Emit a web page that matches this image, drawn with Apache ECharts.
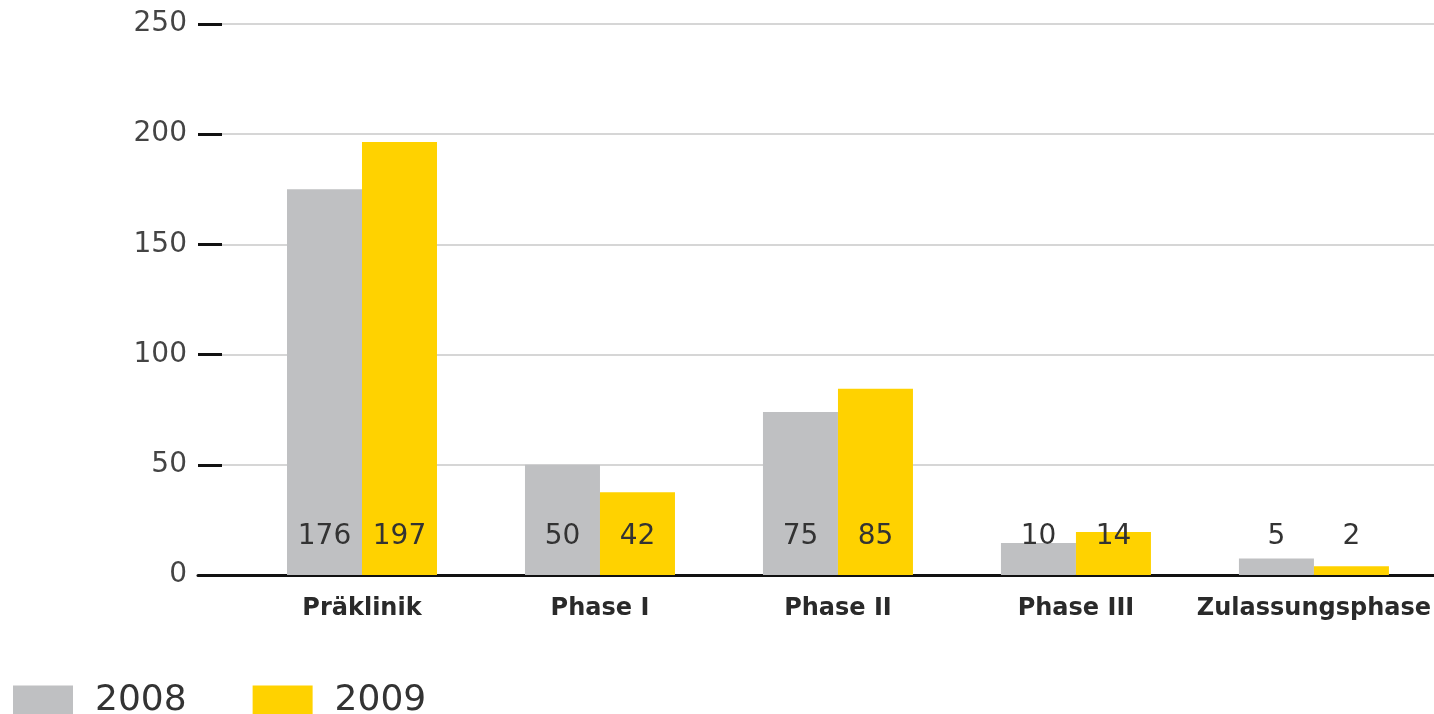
<!DOCTYPE html>
<html>
<head>
<meta charset="utf-8">
<script src="https://cdn.jsdelivr.net/npm/echarts@6/dist/echarts.min.js"></script>
<style>
  html, body { margin: 0; padding: 0; background: #fff; }
  #chart { width: 1434px; height: 714px; }
</style>
</head>
<body>
<div id="chart"></div>
<script>
// categories and series
const categories = ['Präklinik', 'Phase I', 'Phase II', 'Phase III', 'Zulassungsphase']
const seriesNames = ['2008', '2009']
// bar heights as drawn in the picture
const values2008 = [175, 50, 74, 14.5, 7.5]
const values2009 = [196.5, 37.5, 84.5, 19.5, 4]
// numbers printed on the bars
const labels2008 = [176, 50, 75, 10, 5]
const labels2009 = [197, 42, 85, 14, 2]
const yTicks = [0, 50, 100, 150, 200, 250]

const GREY = '#bfc0c2'
const YELLOW = '#ffd200'
const FONT = 'DejaVu Sans'

const chart = echarts.init(document.getElementById('chart'))

function barLabel(labels) {
  return {
    show: true,
    position: 'insideBottom',
    distance: 24,
    fontFamily: FONT,
    fontSize: 28,
    color: '#333',
    formatter: p => String(labels[p.dataIndex])
  }
}

const option = {
  backgroundColor: '#fff',
  animation: false,
  textStyle: { fontFamily: FONT },
  legend: {
    left: 13,
    top: 683,
    padding: 0,
    itemWidth: 60,
    itemHeight: 31,
    itemGap: 66,
    data: seriesNames,
    textStyle: { fontSize: 36, color: '#333', padding: [0, 0, 0, 17] },
    icon: 'rect'
  },
  grid: [
    { left: 198, right: 0, top: 24, bottom: 139 },
    { left: 243, right: 1, top: 24, bottom: 139 }
  ],
  xAxis: [
    {
      gridIndex: 0,
      type: 'value',
      min: 0,
      max: 1,
      axisLine: { show: true, lineStyle: { color: '#111', width: 3 } },
      axisTick: { show: false },
      axisLabel: { show: false },
      splitLine: { show: false }
    },
    {
      gridIndex: 1,
      type: 'category',
      data: categories,
      axisLine: { show: false },
      axisTick: { show: false },
      axisLabel: {
        interval: 0,
        margin: 22,
        fontFamily: FONT,
        fontWeight: 'bold',
        fontSize: 24,
        color: '#2a2a2a'
      }
    }
  ],
  yAxis: [
    {
      gridIndex: 0,
      type: 'value',
      min: yTicks[0],
      max: yTicks[yTicks.length - 1],
      interval: 50,
      axisLine: { show: false },
      axisTick: { show: true, inside: true, length: 24, lineStyle: { color: '#111', width: 3 } },
      axisLabel: { margin: 11, fontFamily: FONT, fontSize: 28, color: '#444' },
      splitLine: { show: true, lineStyle: { color: '#c8c8c8', width: 1.5 } }
    },
    {
      gridIndex: 1,
      type: 'value',
      min: 0,
      max: 250,
      show: false,
      splitLine: { show: false }
    }
  ],
  series: [
    {
      name: seriesNames[0],
      type: 'bar',
      xAxisIndex: 1,
      yAxisIndex: 1,
      data: values2008,
      barWidth: 75,
      barGap: '0%',
      itemStyle: { color: GREY },
      label: barLabel(labels2008)
    },
    {
      name: seriesNames[1],
      type: 'bar',
      xAxisIndex: 1,
      yAxisIndex: 1,
      data: values2009,
      barWidth: 75,
      barGap: '0%',
      itemStyle: { color: YELLOW },
      label: barLabel(labels2009)
    }
  ]
}

chart.setOption(option)
</script>
</body>
</html>
